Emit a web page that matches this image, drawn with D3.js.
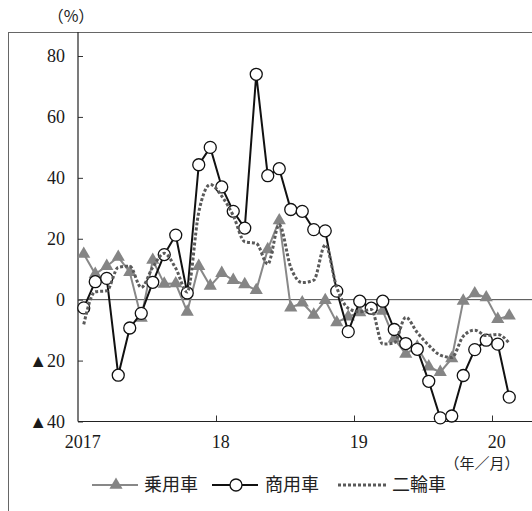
<!DOCTYPE html>
<html>
<head>
<meta charset="utf-8">
<script src="https://cdn.jsdelivr.net/npm/d3@7"></script>
<style>
  body { margin: 0; background: #fff; }
  svg { display: block; }
</style>
</head>
<body>
<svg id="drawing_region"></svg>
<script>
// monthly, 2017/1 - 2020/2, year-on-year (%)
const months = d3.range(38).map(i => `${2017 + Math.floor(i / 12)}/${i % 12 + 1}`);
const yearLabels = ["2017", "18", "19", "20"];
const yTicks = [-40, -20, 0, 20, 40, 60, 80];

const passenger = [15, 8.4, 11, 14, 9, -6, 13, 5.2, 5.3, -4, 11, 4.5, 8.7, 6.4, 5, 3.1,
    16.5, 26, -2.6, -1, -5, -0.2, -7.5, -5.6, -4.2, -3.3, -3.7, -12.8, -17.8, -15.5,
    -22, -23.8, -19.3, -0.4, 2, 0.7, -6.4, -5.3];
const commercial = [-2.7, 5.9, 7.0, -24.8, -9.3, -4.5, 5.7, 14.8, 21.2, 2.2, 44.3, 50.0,
    37.0, 29.0, 23.5, 74.0, 40.7, 43.0, 29.6, 29.0, 23.0, 22.6, 2.8, -10.5, -0.5, -2.8,
    -0.5, -9.8, -14.4, -16.3, -26.8, -38.8, -38.2, -24.9, -16.4, -13.3, -14.6, -32.0];
const twoWheel = [-8.1, 2.6, 2.9, 10.6, 11.0, 4.0, 10.6, 15.2, 10.3, 2.5, 28.7, 37.8,
    34.0, 27.6, 19.0, 18.5, 11.7, 24.6, 10.6, 5.6, 6.4, 18.0, 4.0, -2.8, -4.0, -3.2,
    -14.6, -14.2, -5.8, -10.8, -15.0, -18.2, -19.0, -12.0, -10.0, -11.8, -11.4, -14.3];

const serif = "'Liberation Serif', 'Times New Roman', 'DejaVu Serif', serif";
const jp = "'Noto Sans CJK JP', sans-serif";

const width = 532, height = 511;
const svg = d3.select('#drawing_region')
    .attr('width', width)
    .attr('height', height);

// outer frame (right / bottom run off the picture)
svg.append('rect')
    .attr('x', 8.5).attr('y', 32.5)
    .attr('width', 600).attr('height', 600)
    .attr('fill', 'none')
    .attr('stroke', '#666')
    .attr('stroke-width', 1);

const plotLeft = 78, plotBottom = 421.5, plotTop = 32;
const xscale = d3.scaleLinear()
    .domain([0, months.length])
    .range([plotLeft, plotLeft + 11.5 * months.length]);
const yscale = d3.scaleLinear()
    .domain([-40, 80])
    .range([plotBottom, 56]);
const xm = i => xscale(i + 0.5);

// y axis
const yaxis = d3.axisLeft(yscale)
    .tickValues(yTicks)
    .tickSize(-5)
    .tickPadding(13)
    .tickFormat(d => d < 0 ? '▲' + (-d) : d);
const yg = svg.append('g')
    .attr('transform', `translate(${plotLeft},0)`)
    .call(yaxis)
    .attr('font-family', serif)
    .attr('font-size', 18);
yg.select('.domain').remove();
yg.selectAll('.tick line').attr('stroke', '#333');
yg.selectAll('.tick text').attr('fill', '#1a1a1a');
svg.append('line')
    .attr('x1', plotLeft).attr('x2', plotLeft)
    .attr('y1', plotTop).attr('y2', plotBottom)
    .attr('stroke', '#222').attr('stroke-width', 1.2);

// x axis
const xaxis = d3.axisBottom(xscale)
    .tickValues([12, 24, 36])
    .tickSize(-6)
    .tickFormat('');
const xg = svg.append('g')
    .attr('transform', `translate(0,${plotBottom})`)
    .call(xaxis);
xg.select('.domain').remove();
xg.selectAll('.tick line').attr('stroke', '#333');
svg.append('line')
    .attr('x1', plotLeft).attr('x2', width)
    .attr('y1', plotBottom).attr('y2', plotBottom)
    .attr('stroke', '#222').attr('stroke-width', 1.2);

svg.selectAll('.year')
    .data(yearLabels)
    .enter()
    .append('text')
    .attr('class', 'year')
    .attr('x', (d, i) => xm(i * 12) - 1)
    .attr('y', 448)
    .attr('text-anchor', 'middle')
    .attr('font-family', serif)
    .attr('font-size', 18)
    .attr('fill', '#1a1a1a')
    .text(d => d);

// zero line
svg.append('line')
    .attr('x1', plotLeft).attr('x2', width)
    .attr('y1', yscale(0)).attr('y2', yscale(0))
    .attr('stroke', '#444').attr('stroke-width', 1);

// 乗用車
const line = d3.line().x((d, i) => xm(i)).y(d => yscale(d));
const triangle = d3.symbol().type(d3.symbolTriangle).size(75);

svg.append('path')
    .datum(passenger)
    .attr('d', line)
    .attr('fill', 'none')
    .attr('stroke', '#888')
    .attr('stroke-width', 2);
svg.selectAll('.tri')
    .data(passenger)
    .enter()
    .append('path')
    .attr('class', 'tri')
    .attr('d', triangle)
    .attr('transform', (d, i) => `translate(${xm(i)},${yscale(d)})`)
    .attr('fill', '#858585');

// 商用車
svg.append('path')
    .datum(commercial)
    .attr('d', line)
    .attr('fill', 'none')
    .attr('stroke', '#111')
    .attr('stroke-width', 2);
svg.selectAll('.dot')
    .data(commercial)
    .enter()
    .append('circle')
    .attr('class', 'dot')
    .attr('cx', (d, i) => xm(i))
    .attr('cy', d => yscale(d))
    .attr('r', 6)
    .attr('fill', '#fff')
    .attr('stroke', '#111')
    .attr('stroke-width', 1.3);

// 二輪車
svg.append('path')
    .datum(twoWheel)
    .attr('d', d3.line().x((d, i) => xm(i)).y(d => yscale(d)).curve(d3.curveMonotoneX))
    .attr('fill', 'none')
    .attr('stroke', '#5a5a5a')
    .attr('stroke-width', 3)
    .attr('stroke-dasharray', '3,2');

// labels
svg.append('text')
    .attr('x', 71).attr('y', 22)
    .attr('text-anchor', 'middle')
    .attr('font-family', jp)
    .attr('font-size', 16)
    .attr('fill', '#222')
    .text('（%）');
svg.append('text')
    .attr('x', 482).attr('y', 469)
    .attr('text-anchor', 'middle')
    .attr('font-family', jp)
    .attr('font-size', 15)
    .attr('fill', '#222')
    .text('（年／月）');

// legend
const ly = 485;
const legend = svg.append('g');
legend.append('line')
    .attr('x1', 92).attr('x2', 138).attr('y1', ly).attr('y2', ly)
    .attr('stroke', '#888').attr('stroke-width', 2);
legend.append('path')
    .attr('d', triangle)
    .attr('transform', `translate(116,${ly})`)
    .attr('fill', '#858585');
legend.append('line')
    .attr('x1', 212).attr('x2', 258).attr('y1', ly).attr('y2', ly)
    .attr('stroke', '#111').attr('stroke-width', 2);
legend.append('circle')
    .attr('cx', 236).attr('cy', ly).attr('r', 6)
    .attr('fill', '#fff').attr('stroke', '#111').attr('stroke-width', 1.3);
legend.append('line')
    .attr('x1', 338).attr('x2', 388).attr('y1', ly).attr('y2', ly)
    .attr('stroke', '#5a5a5a').attr('stroke-width', 3)
    .attr('stroke-dasharray', '3,2');

const legendText = [{t: '乗用車', x: 144}, {t: '商用車', x: 265}, {t: '二輪車', x: 392}];
legend.selectAll('.lt')
    .data(legendText)
    .enter()
    .append('text')
    .attr('x', d => d.x)
    .attr('y', ly + 6)
    .attr('font-family', jp)
    .attr('font-size', 18)
    .attr('fill', '#222')
    .text(d => d.t);
</script>
</body>
</html>
